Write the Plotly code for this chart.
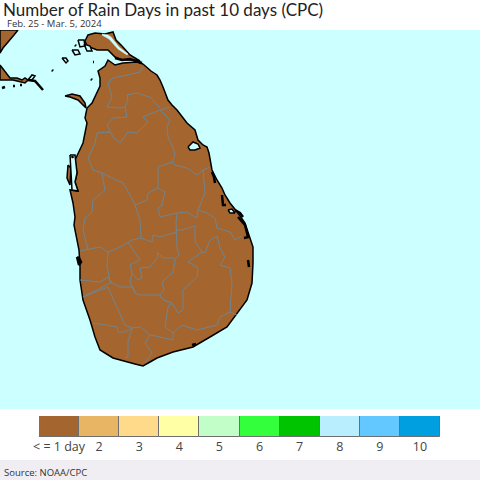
import plotly.graph_objects as go

# legend classes
day_labels = ['< = 1 day', '2', '3', '4', '5', '6', '7', '8', '9', '10']
day_colors = ['#a5652f', '#e8b565', '#ffda8a', '#ffffa6', '#c2ffc8',
              '#33ff3d', '#00c400', '#b9eeff', '#62c8ff', '#009fdf']

main_x = [143, 145, 151, 157, 160, 163, 168, 172, 177, 187, 195, 198, 203, 207, 209, 212, 217, 222, 225, 230, 238, 245,
          250, 253, 253, 252, 247, 237, 227, 210, 193, 173, 157, 150, 143, 135, 127, 113, 100, 97, 95, 90, 83, 80, 80,
          79, 77, 74, 75, 73, 70, 78, 75, 77, 75, 80, 83, 87, 85, 87, 92, 100, 100, 98, 105, 108, 115, 123, 137, 143]
main_y = [64, 66, 71, 75, 80, 87, 100, 105, 110, 123, 130, 140, 145, 147, 153, 170, 180, 188, 195, 203, 213, 223,
          237, 247, 263, 283, 300, 313, 327, 337, 347, 352, 358, 362, 366, 364, 362, 358, 350, 342, 337, 320, 300, 280, 267,
          250, 240, 225, 217, 203, 190, 191, 182, 173, 160, 150, 143, 123, 118, 108, 103, 86, 78, 71, 66, 60, 65, 63, 62, 64]
jaffna_x = [85, 88, 95, 105, 113, 116, 122, 130, 140, 130, 122, 115, 108, 97, 87, 85]
jaffna_y = [41, 35, 33, 34, 32, 40, 46, 55, 61, 60, 60, 57, 50, 50, 46, 41]
lagoon_x = [102, 108, 111, 119, 128, 127, 118, 109, 102]
lagoon_y = [34, 35, 37, 47, 54, 55, 49, 39, 35]
kalpitiya_x = [65, 72, 80, 85, 86, 78, 70, 65]
kalpitiya_y = [96, 94, 96, 103, 108, 100, 97, 96]
fringe_x = [68, 71, 70, 67, 68]
fringe_y = [165, 168, 185, 178, 165]
india_top_x = [0, 18, 14, 10, 3, 0, 0]
india_top_y = [30, 30, 35, 40, 48, 53, 30]
india_low_x = [0, 5, 10, 17, 22, 25, 28, 25, 13, 0, 0]
india_low_y = [65, 71, 78, 78, 80, 78, 80, 83, 80, 80, 65]

# small islets and lagoons, black outline
islet_x = [62, 66, 68, 66, 62, None, 78, 84, 85, 80, 78, None, 72, 78, 80, 75, 72, None, 84, 90, 92, 87, 84, None,
           188, 193, 198, 200, 195, 190, 188, None, 228, 232, 235, 230, 228, None, 70, 75, 77, 75, 78, 72, 70, None,
           28, 32, 35, 32, 28]
islet_y = [58, 58, 61, 63, 58, None, 40, 40, 46, 47, 40, None, 50, 50, 54, 55, 50, None, 44, 46, 51, 51, 44, None,
           147, 142, 144, 148, 150, 150, 147, None, 210, 209, 213, 213, 210, None, 155, 155, 173, 182, 191, 190, 155, None,
           80, 75, 76, 80, 80]
dark_x = [28, 35, 43, None, 115, 122, 130, 142, None, 212, 214, 215, None, 222, 223, 226, None, 235, 240, 243, None,
          238, 245, 248, 244, None, 248, 249, None, 77, 79, 81, 79, 77, None, 72, 73, None, 91, 92, None, 52, 53, None,
          93, 94, None, 2, 5, None, 13, 15, None, 20, 22, None, 75, 76, None, 192, 196]
dark_y = [80, 81, 90, None, 58, 60, 59, 63, None, 172, 177, 183, None, 195, 205, 205, None, 210, 213, 217, None,
          217, 225, 237, 238, None, 260, 267, None, 257, 258, 262, 265, 257, None, 156, 158, None, 79, 80, None, 70, 71, None,
          62, 62, None, 88, 87, None, 86, 86, None, 85, 85, None, 45, 46, None, 345, 344]

# district borders
border_x = [143, 140, 127, 113, 108, 112, 107, 120, 125, 127, 113, 107, 113, 120, 128, 137, 148, 143, 160, 170, None,
            127, 128, 125, None, 127, 137, 143, 150, 160, None,
            107, 110, 97, 95, 88, 93, 102, 105, 93, 92, 85, 83, 88, None, 80, 93, 100, 108, 120, 132, 141, 140, 135,
            129, 123, 110, 102, None, 135, 147, 148, 158, 165, 162, 158, 160, 177, 187, 197, 198, 205, 203, 197, 187,
            175, 172, 158, 158, None, 203, 210, None, 160, 170, 167, 168, 173, 175, 172, None,
            198, 207, 215, 217, 230, 235, 242, None,
            177, 176, 177, 179, 175, 173, 162, 164, 160, 140, 135, 133, 120, 110, 107, 108, None,
            176, 182, 195, 195, 202, 205, 210, 217, 220, 225, 220, 230, 232, 230, 237, None,
            202, 195, 188, 198, 197, 183, 183, 178, 172, 163, 160, None,
            230, 220, 217, 197, 182, 173, 165, 168, 172, None,
            173, 173, 160, 150, 145, 152, 145, None, 150, 140, 132, 128, 128, 125, None,
            132, 125, 118, 117, 93, None, 110, 115, 125, 132, None,
            80, 100, 108, 112, 83, 100, 108, 110, None,
            128, 140, 130, 132, 130, 135, None, 140, 150, 158, 157, 163, 175, None, 140, 142, 138, 132, None,
            141, 152, 153, 160, 173, 176]
border_y = [67, 72, 75, 78, 83, 97, 107, 108, 107, 117, 118, 125, 137, 143, 132, 133, 122, 117, 110, 107, None,
            95, 100, 107, None, 95, 93, 95, 97, 108, None,
            132, 132, 133, 143, 158, 170, 173, 190, 200, 212, 218, 230, 250, None, 251, 248, 247, 252, 247, 240, 238, 220, 205,
            193, 183, 177, 173, None, 205, 200, 193, 188, 192, 205, 208, 217, 213, 212, 218, 210, 193, 170, 175, 168,
            165, 162, 167, 188, None, 170, 167, None, 110, 120, 127, 137, 147, 155, 162, None,
            210, 213, 218, 228, 232, 240, 236, None,
            213, 223, 247, 255, 260, 272, 282, 290, 295, 295, 293, 287, 287, 282, 265, 252, None,
            230, 230, 226, 242, 252, 253, 240, 236, 248, 257, 265, 268, 283, 312, 315, None,
            252, 257, 262, 268, 277, 290, 310, 313, 303, 300, 295, None,
            312, 317, 325, 330, 325, 333, 327, 307, 303, None,
            333, 340, 337, 335, 343, 353, 363, None, 335, 327, 328, 342, 357, 358, None,
            328, 332, 332, 327, 323, None, 292, 303, 325, 328, None,
            280, 282, 277, 282, 297, 290, 287, 292, None,
            242, 260, 265, 273, 282, 293, None, 268, 267, 257, 252, 258, 258, None, 268, 278, 280, 273, None,
            238, 242, 235, 237, 233, 233]

COAST = '#000000'
BORDER = '#6f8590'
SEA = '#ccffff'

fig = go.Figure()


def add_land(xs, ys, fill):
    fig.add_trace(go.Scatter(x=xs, y=ys, mode='lines', fill='toself', fillcolor=fill,
                             line=dict(color=COAST, width=1.5), hoverinfo='skip', showlegend=False))


add_land(india_top_x, india_top_y, day_colors[0])
add_land(india_low_x, india_low_y, day_colors[0])
add_land(kalpitiya_x, kalpitiya_y, day_colors[0])
add_land(jaffna_x, jaffna_y, day_colors[0])
add_land(main_x, main_y, day_colors[0])
add_land(fringe_x, fringe_y, day_colors[0])
fig.add_trace(go.Scatter(x=lagoon_x, y=lagoon_y, mode='lines', fill='toself', fillcolor=SEA,
                         line=dict(color=SEA, width=0.5), hoverinfo='skip', showlegend=False))
fig.add_trace(go.Scatter(x=border_x, y=border_y, mode='lines', line=dict(color=BORDER, width=1),
                         hoverinfo='skip', showlegend=False))
add_land(islet_x, islet_y, SEA)
fig.add_trace(go.Scatter(x=dark_x, y=dark_y, mode='lines', line=dict(color=COAST, width=2.5),
                         hoverinfo='skip', showlegend=False))

# colour key
fig.add_trace(go.Bar(x=day_labels, y=[1] * len(day_labels), width=1, xaxis='x2', yaxis='y2',
                     marker=dict(color=day_colors, line=dict(color='#6e6e6e', width=1)),
                     hoverinfo='skip', showlegend=False))

fig.update_layout(
    template='none',
    width=480, height=480, margin=dict(l=0, r=0, t=0, b=0),
    paper_bgcolor='white', plot_bgcolor=SEA, bargap=0,
    font=dict(family='Open Sans', color='#333333'),
    xaxis=dict(domain=[0, 1], range=[0, 480], visible=False),
    yaxis=dict(domain=[71 / 480, 450 / 480], range=[409, 30], visible=False),
    xaxis2=dict(domain=[39 / 480, 440 / 480], anchor='y2', type='category', showgrid=False, showline=False,
                ticks='', tickfont=dict(size=12.5, color='#444444'), tickangle=0),
    yaxis2=dict(domain=[43 / 480, 64 / 480], anchor='x2', range=[0, 1], visible=False),
    shapes=[dict(type='rect', xref='paper', yref='paper', x0=0, x1=1, y0=0, y1=20 / 480,
                 fillcolor='#f0eef2', line_width=0, layer='below')],
    annotations=[
        dict(text='Number of Rain Days in past 10 days (CPC)', xref='paper', yref='paper', x=2 / 480, y=1 + 2 / 480,
             xanchor='left', yanchor='top', showarrow=False, borderpad=0, font=dict(family='Lato', size=17, color='#222222')),
        dict(text='Feb. 25 - Mar. 5, 2024', xref='paper', yref='paper', x=6 / 480, y=1 - 16 / 480,
             xanchor='left', yanchor='top', showarrow=False, borderpad=0, font=dict(size=9.5, color='#333333')),
        dict(text='Source: NOAA/CPC', xref='paper', yref='paper', x=2 / 480, y=8 / 480,
             xanchor='left', yanchor='middle', showarrow=False, font=dict(size=9.5, color='#333333')),
    ],
)

fig.write_html("out.html", config=dict(displayModeBar=False),
               post_script="document.body.style.margin='0';window.dispatchEvent(new Event('resize'));")
